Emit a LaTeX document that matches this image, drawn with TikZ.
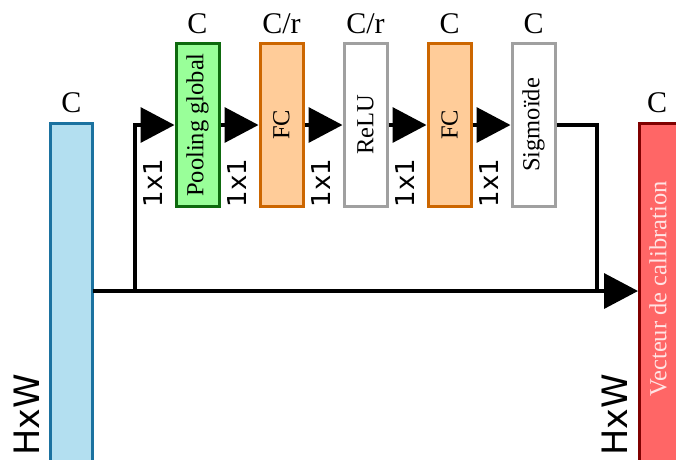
\documentclass[tikz,border=0pt]{standalone}
\usepackage{fontspec}
\setmainfont{Liberation Serif}
\newfontfamily\dvs{DejaVu Sans}
\usetikzlibrary{arrows.meta}
\definecolor{bluefill}{HTML}{B3DFF0}
\definecolor{blueline}{HTML}{1B72A0}
\definecolor{greenfill}{HTML}{99FF99}
\definecolor{greenline}{HTML}{0E6A0E}
\definecolor{orfill}{HTML}{FFCC99}
\definecolor{orline}{HTML}{CC6600}
\definecolor{grayline}{HTML}{A0A0A0}
\definecolor{redfill}{HTML}{FF6666}
\definecolor{redline}{HTML}{800000}
\definecolor{redtext}{HTML}{FFE4E4}
\tikzset{
  blk/.style={draw, line width=3pt, minimum width=43pt, minimum height=163pt, inner sep=0pt, font=\fontsize{24.5}{26}\selectfont},
  lbl/.style={font=\fontsize{30}{32}\selectfont, inner sep=0pt, anchor=base},
  dim/.style={font=\dvs\fontsize{26}{28}\selectfont, rotate=90, inner sep=0pt},
  big/.style={font=\dvs\fontsize{35}{37}\selectfont, rotate=90, inner sep=0pt},
  conn/.style={line width=3.5pt, -{Triangle[length=34pt,width=35pt]}},
  wire/.style={line width=3.5pt}
}
\begin{document}
\begin{tikzpicture}[x=1pt,y=-1pt]
\useasboundingbox (0,0) rectangle (676,459);
% side bars
\draw[line width=3pt, draw=blueline, fill=bluefill] (50.5,123.5) rectangle (92.5,470);
\draw[line width=3pt, draw=redline, fill=redfill] (639.5,123.5) rectangle (700,470);
\node[lbl] (cin) at (71.5,112) {C};
\node[lbl] (cout) at (657,112) {C};
\node[big] (hw1) at (27,415) {HxW};
\node[big] (hw2) at (615,415) {HxW};
\node[rotate=90, inner sep=0pt, text=redtext, font=\fontsize{24.5}{26}\selectfont] (vec) at (658,289) {Vecteur de calibration};
\coordinate (bout) at (92.5,291);
\coordinate (rin) at (638,291);
\coordinate (split) at (135,291);
\coordinate (splitup) at (135,125);
\coordinate (join) at (597,125);
\coordinate (joindown) at (597,291);
% blocks
\node[blk, draw=greenline, fill=greenfill] (pool) at (197.5,125) {\rotatebox{90}{Pooling global}};
\node[blk, draw=orline, fill=orfill] (fc1) at (281.5,125) {\rotatebox{90}{FC}};
\node[blk, draw=grayline, fill=white] (relu) at (365.5,125) {\rotatebox{90}{ReLU}};
\node[blk, draw=orline, fill=orfill] (fc2) at (449.5,125) {\rotatebox{90}{FC}};
\node[blk, draw=grayline, fill=white] (sig) at (533.5,125) {\rotatebox{90}{Sigmoïde}};
% top labels
\node[lbl] (l1) at (197.5,33) {C};
\node[lbl] (l2) at (281.5,33) {C/r};
\node[lbl] (l3) at (365.5,33) {C/r};
\node[lbl] (l4) at (449.5,33) {C};
\node[lbl] (l5) at (533.5,33) {C};
% 1x1 labels
\node[dim] (d1) at (153,183) {1x1};
\node[dim] (d2) at (237.5,183) {1x1};
\node[dim] (d3) at (321.5,183) {1x1};
\node[dim] (d4) at (405.5,183) {1x1};
\node[dim] (d5) at (489.5,183) {1x1};
% connectors
\draw[conn] (bout) -- (rin);
\draw[wire] (split) -- (splitup);
\draw[conn] ([xshift=-1.75pt]splitup) -- (pool.west);
\draw[conn] (pool.east) -- (fc1.west);
\draw[conn] (fc1.east) -- (relu.west);
\draw[conn] (relu.east) -- (fc2.west);
\draw[conn] (fc2.east) -- (sig.west);
\draw[wire, line join=miter] (sig.east) -- (join) -- (joindown);
\end{tikzpicture}
\end{document}
